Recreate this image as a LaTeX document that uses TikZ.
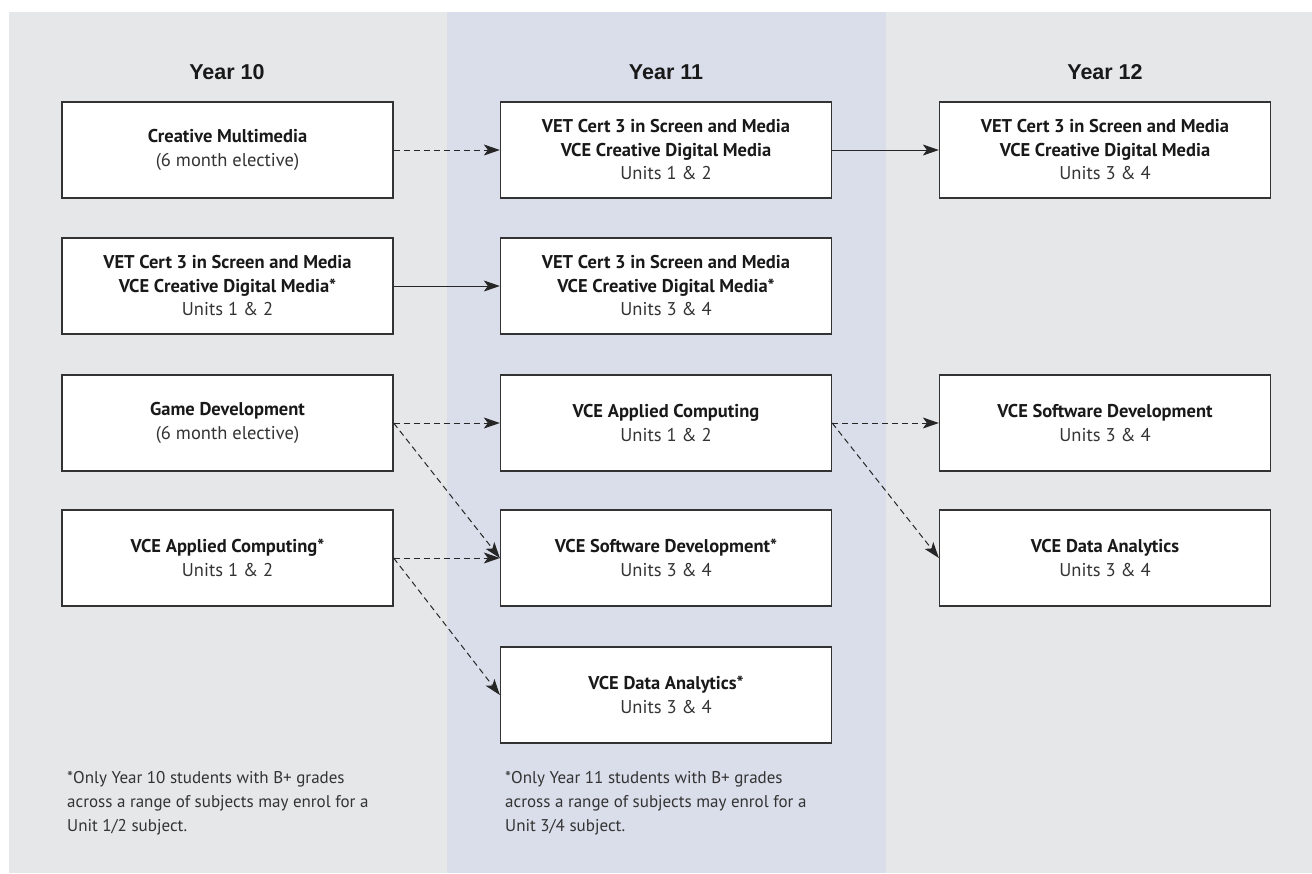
\documentclass[tikz,border=0pt]{standalone}
\usepackage{fontspec}
\setmainfont{PT Sans}
\newfontfamily\headfont{Liberation Sans}
\usetikzlibrary{arrows.meta}
\definecolor{panelgrey}{RGB}{230,231,233}
\definecolor{panelblue}{RGB}{217,222,234}
\definecolor{inkgrey}{RGB}{51,51,51}

\tikzset{
  course/.style={draw=inkgrey, line width=1.3pt, fill=white, minimum width=331pt,
    minimum height=96pt, align=center, text=black!90,
    font=\fontsize{18.5}{23.5}\selectfont},
  yearhead/.style={font=\headfont\bfseries\fontsize{21.5}{24}\selectfont, text=black!90},
  footnote/.style={anchor=north west, align=left, text=inkgrey, inner sep=0pt,
    font=\fontsize{17}{24}\selectfont},
  path/.style={-{Stealth[length=16pt,width=11pt,inset=4pt]}, line width=1pt, black!85},
  maybe/.style={path, dash pattern=on 6pt off 4pt}
}
\newcommand{\units}[1]{\\{\color{inkgrey}Units #1}}

\begin{document}
\begin{tikzpicture}[x=1pt,y=-1pt]
	\useasboundingbox (0,0) rectangle (1312,873);
	
	% columns
	\fill[panelgrey] (9,12) rectangle (1312,873);
	\fill[panelblue] (447,12) rectangle (886,873);
	
	\node[yearhead] (y10) at (227,72) {Year 10};
	\node[yearhead] (y11) at (666,72) {Year 11};
	\node[yearhead] (y12) at (1105,72) {Year 12};
	
	% year 10
	\node[course] (cm) at (227.5,150) {\textbf{Creative Multimedia}\\{\color{inkgrey}(6 month elective)}};
	\node[course] (vet10) at (227.5,286) {\textbf{VET Cert 3 in Screen and Media}\\\textbf{VCE Creative Digital Media*}\units{1 \& 2}};
	\node[course] (gd) at (227.5,423) {\textbf{Game Development}\\{\color{inkgrey}(6 month elective)}};
	\node[course] (ac10) at (227.5,558) {\textbf{VCE Applied Computing*}\units{1 \& 2}};
	
	% year 11
	\node[course] (vet11a) at (666,150) {\textbf{VET Cert 3 in Screen and Media}\\\textbf{VCE Creative Digital Media}\units{1 \& 2}};
	\node[course] (vet11b) at (666,286) {\textbf{VET Cert 3 in Screen and Media}\\\textbf{VCE Creative Digital Media*}\units{3 \& 4}};
	\node[course] (ac11) at (666,423) {\textbf{VCE Applied Computing}\units{1 \& 2}};
	\node[course] (sd11) at (666,558) {\textbf{VCE Software Development*}\units{3 \& 4}};
	\node[course] (da11) at (666,695) {\textbf{VCE Data Analytics*}\units{3 \& 4}};
	
	% year 12
	\node[course] (vet12) at (1105,150) {\textbf{VET Cert 3 in Screen and Media}\\\textbf{VCE Creative Digital Media}\units{3 \& 4}};
	\node[course] (sd12) at (1105,423) {\textbf{VCE Software Development}\units{3 \& 4}};
	\node[course] (da12) at (1105,558) {\textbf{VCE Data Analytics}\units{3 \& 4}};
	
	\draw[maybe] (cm.east) -- (vet11a.west);
	\draw[path] (vet11a.east) -- (vet12.west);
	\draw[path] (vet10.east) -- (vet11b.west);
	\draw[maybe] (gd.east) -- (ac11.west);
	\draw[maybe] (gd.east) -- (sd11.west);
	\draw[maybe] (ac10.east) -- (sd11.west);
	\draw[maybe] (ac10.east) -- (da11.west);
	\draw[maybe] (ac11.east) -- (sd12.west);
	\draw[maybe] (ac11.east) -- (da12.west);
	
	\node[footnote] (note10) at (67,771) {*Only Year 10 students with B+ grades\\across a range of subjects may enrol for a\\Unit 1/2 subject.};
	\node[footnote] (note11) at (505,771) {*Only Year 11 students with B+ grades\\across a range of subjects may enrol for a\\Unit 3/4 subject.};
\end{tikzpicture}
\end{document}
